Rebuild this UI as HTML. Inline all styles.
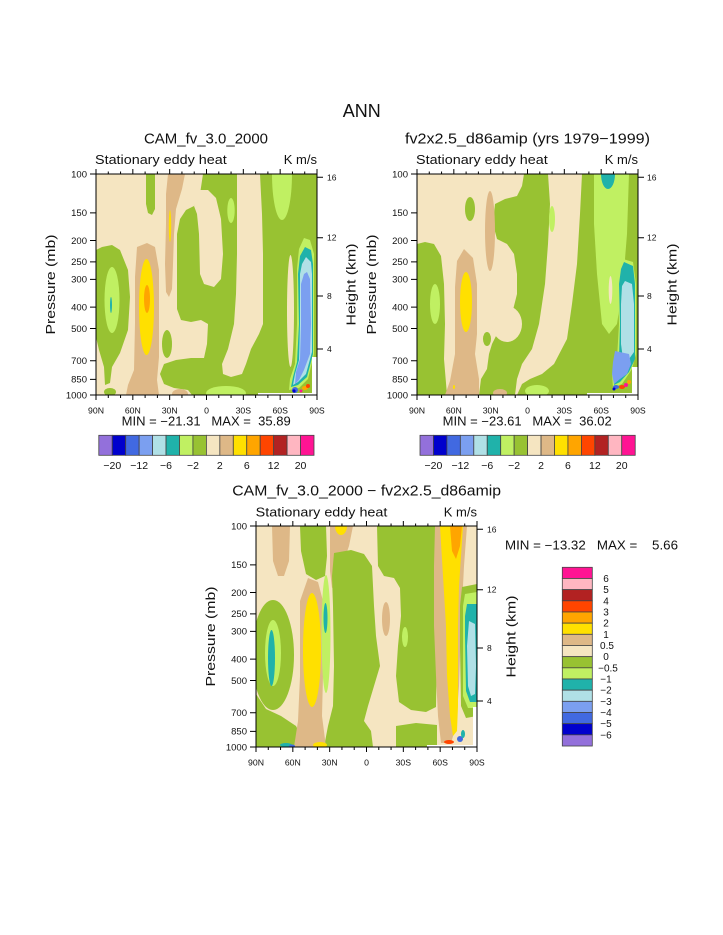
<!DOCTYPE html>
<html><head><meta charset="utf-8">
<style>
html,body{margin:0;padding:0;background:#fff;}
svg{display:block;}
text{font-family:"Liberation Sans",sans-serif;fill:#111;}
.g{fill:#98C232}.lg{fill:#C0F062}.b{fill:#F5E5C1}.t{fill:#DEB887}.y{fill:#FFE000}.o{fill:#FFA500}
.te{fill:#20B2AA}.pb{fill:#B0E0E6}.cf{fill:#7B9FF0}.rb{fill:#4169E1}.mb{fill:#0000CD}.pu{fill:#9370DB}
.or{fill:#FF4500}.fb{fill:#B22222}.lp{fill:#FFB6C1}.dp{fill:#FF1493}.w{fill:#fff}
.tk{stroke:#000;stroke-width:1;fill:none}
.cb rect{stroke:#444;stroke-width:0.8}
</style></head>
<body>
<svg width="723" height="935" viewBox="0 0 723 935" xmlns="http://www.w3.org/2000/svg">
<defs>
<clipPath id="pc"><rect width="221" height="221"/></clipPath>
<g id="ticks">
<path class="tk" d="M0 221V226M36.83 221V226M73.67 221V226M110.5 221V226M147.33 221V226M184.17 221V226M221 221V226"/>
<path class="tk" d="M12.28 221V224M24.56 221V224M49.11 221V224M61.39 221V224M85.94 221V224M98.22 221V224M122.78 221V224M135.06 221V224M159.61 221V224M171.89 221V224M196.44 221V224M208.72 221V224"/>
<path class="tk" d="M0 0V-5M36.83 0V-5M73.67 0V-5M110.5 0V-5M147.33 0V-5M184.17 0V-5M221 0V-5"/>
<path class="tk" d="M12.28 0V-2.5M24.56 0V-2.5M49.11 0V-2.5M61.39 0V-2.5M85.94 0V-2.5M98.22 0V-2.5M122.78 0V-2.5M135.06 0V-2.5M159.61 0V-2.5M171.89 0V-2.5M196.44 0V-2.5M208.72 0V-2.5"/>
<path class="tk" d="M0 0H-6M0 38.9H-6M0 66.5H-6M0 87.9H-6M0 105.4H-6M0 133.1H-6M0 154.5H-6M0 186.8H-6M0 205.4H-6M0 221H-6"/>
<path class="tk" d="M221 3.3H227M221 63.7H227M221 122H227M221 175H227"/>
<rect x="0" y="0" width="221" height="221" fill="none" stroke="#000" stroke-width="1"/>
</g>
</defs>

<text x="361.7" y="117" font-size="18.5" text-anchor="middle" textLength="38" lengthAdjust="spacingAndGlyphs">ANN</text>

<!-- ================= PLOT 1 ================= -->
<g transform="translate(96,174)">
<g clip-path="url(#pc)">
<rect width="221" height="221" class="b"/>
<path class="g" d="M107,0 L221,0 L221,221 L96,221 L92,216 L78,214 L68,210 L64,200 L68,190 L80,186 L95,184 L108,184 L111,170 L112,150 L105,146 L95,148 L85,146 L81,135 L81,60 L84,45 L90,36 L98,32 L104,20Z"/>
<path class="b" d="M98,32 L104,16 L112,16 L120,24 L125,45 L127,80 L125,105 L118,113 L108,110 L104,100 L103,60 L101,40Z"/>
<path class="b" d="M141,0 L164,0 L166,40 L167,80 L167,150 L163,160 L155,175 L150,190 L146,200 L135,203 L127,200 L126,190 L132,175 L138,150 L140,120 L141,80 L141,40Z"/>
<ellipse class="b" cx="194.5" cy="137" rx="3.5" ry="56"/>
<ellipse class="lg" cx="135" cy="36.5" rx="3.7" ry="12.5"/>
<ellipse class="lg" cx="186" cy="0" rx="10" ry="46"/>
<ellipse class="lg" cx="130" cy="219" rx="20" ry="7"/>
<path class="lg" d="M208,64 L214,66 L218,80 L218,180 L212,205 L203,214 L193,216 L194,205 L199,190 L201,150 L201,95 L203,75Z"/>
<path class="te" d="M209,73 L215,76 L217,90 L217,180 L211,203 L202,211 L195,213 L197,203 L201,188 L203,150 L202,100 L204,82Z"/>
<path class="pb" d="M210,83 L215,88 L216,100 L216,178 L210,200 L202,208 L197,211 L199,200 L203,186 L204,150 L204,100 L206,90Z"/>
<path class="cf" d="M211,98 L214,105 L215,150 L214,180 L208,196 L203,206 L199,210 L200,198 L204,185 L205,150 L205,110 L208,100Z"/>
<ellipse class="rb" cx="199" cy="216" rx="3" ry="3"/>
<ellipse class="mb" cx="198" cy="217" rx="1.6" ry="1.6"/>
<ellipse class="o" cx="209" cy="214" rx="3" ry="2"/>
<ellipse class="or" cx="212" cy="212" rx="2" ry="2"/>
<ellipse class="dp" cx="205" cy="217" rx="1.5" ry="1.5"/>
<rect class="w" x="216" y="183" width="5" height="38"/>
<rect class="w" x="162" y="219" width="59" height="2"/>
<path class="g" d="M0,76 L6,73 L16,71 L24,76 L32,96 L34,123 L32,156 L24,179 L16,193 L14,209 L9,211 L8,193 L3,176 L0,163Z"/>
<ellipse class="lg" cx="16" cy="126" rx="7.5" ry="33"/>
<ellipse class="te" cx="15" cy="131" rx="1" ry="8"/>
<ellipse class="g" cx="14" cy="218" rx="6" ry="4"/>
<path class="t" d="M41,73 L51,69 L59,73 L63,96 L63,183 L61,206 L63,221 L30,221 L32,211 L38,196 L39,149 L39,103Z"/>
<ellipse class="y" cx="50.5" cy="133" rx="7.5" ry="48"/>
<ellipse class="o" cx="51" cy="125" rx="3" ry="14"/>
<path class="t" d="M72,0 L89,0 L86,15 L80,35 L78,60 L77,90 L76,115 L73,123 L70,118 L69,90 L70,50 L70,20Z"/>
<ellipse class="y" cx="74" cy="52" rx="1.2" ry="16"/>
<path class="g" d="M50,0 L59,0 L59,35 L56,41 L52,39 L50,30Z"/>
<ellipse class="t" cx="84" cy="220" rx="8" ry="5"/>
<ellipse class="g" cx="71" cy="170" rx="5" ry="14"/>
</g>
<use href="#ticks"/>
</g>
<text x="144" y="143.5" font-size="14.5" textLength="124" lengthAdjust="spacingAndGlyphs">CAM_fv_3.0_2000</text>
<text x="95" y="164" font-size="13" textLength="131.7" lengthAdjust="spacingAndGlyphs">Stationary eddy heat</text>
<text x="317" y="164" font-size="13" text-anchor="end">K m/s</text>
<g font-size="9.5" text-anchor="end">
<text x="87" y="177.3">100</text><text x="87" y="216.2">150</text><text x="87" y="243.8">200</text><text x="87" y="265.2">250</text><text x="87" y="282.7">300</text><text x="87" y="310.4">400</text><text x="87" y="331.8">500</text><text x="87" y="364.1">700</text><text x="87" y="382.7">850</text><text x="87" y="398.3">1000</text>
</g>
<g font-size="8.5">
<text x="327" y="180.3">16</text><text x="327" y="240.7">12</text><text x="327" y="299">8</text><text x="327" y="352">4</text>
</g>
<g font-size="8.7" text-anchor="middle">
<text x="96" y="413.5">90N</text><text x="132.8" y="413.5">60N</text><text x="169.7" y="413.5">30N</text><text x="206.5" y="413.5">0</text><text x="243.3" y="413.5">30S</text><text x="280.2" y="413.5">60S</text><text x="317" y="413.5">90S</text>
</g>
<text transform="translate(55,284.5) rotate(-90)" font-size="13" text-anchor="middle" textLength="100" lengthAdjust="spacingAndGlyphs">Pressure (mb)</text>
<text transform="translate(355.5,284.5) rotate(-90)" font-size="13" text-anchor="middle" textLength="82" lengthAdjust="spacingAndGlyphs">Height (km)</text>
<text x="121.7" y="425.7" font-size="12.5" textLength="169" lengthAdjust="spacingAndGlyphs" style="white-space:pre">MIN = −21.31   MAX =  35.89</text>
<g class="cb" transform="translate(98.8,435.3)">
<rect x="0" width="13.45" height="20" class="pu"/><rect x="13.45" width="13.45" height="20" class="mb"/><rect x="26.9" width="13.45" height="20" class="rb"/><rect x="40.35" width="13.45" height="20" class="cf"/><rect x="53.8" width="13.45" height="20" class="pb"/><rect x="67.25" width="13.45" height="20" class="te"/><rect x="80.7" width="13.45" height="20" class="lg"/><rect x="94.15" width="13.45" height="20" class="g"/><rect x="107.6" width="13.45" height="20" class="b"/><rect x="121.05" width="13.45" height="20" class="t"/><rect x="134.5" width="13.45" height="20" class="y"/><rect x="147.95" width="13.45" height="20" class="o"/><rect x="161.4" width="13.45" height="20" class="or"/><rect x="174.85" width="13.45" height="20" class="fb"/><rect x="188.3" width="13.45" height="20" class="lp"/><rect x="201.75" width="13.45" height="20" class="dp"/>
</g>
<g font-size="10.5" text-anchor="middle">
<text x="112.25" y="469">−20</text><text x="139.15" y="469">−12</text><text x="166.05" y="469">−6</text><text x="192.95" y="469">−2</text><text x="219.85" y="469">2</text><text x="246.75" y="469">6</text><text x="273.65" y="469">12</text><text x="300.55" y="469">20</text>
</g>

<!-- ================= PLOT 2 ================= -->
<g transform="translate(417,174)">
<g clip-path="url(#pc)">
<rect width="221" height="221" class="b"/>
<path class="g" d="M107,0 L131,0 L133,30 L131,70 L128,110 L122,150 L115,175 L105,190 L100,205 L98,221 L62,221 L64,205 L70,195 L72,180 L75,170 L80,160 L85,150 L95,140 L100,120 L100,100 L97,80 L90,70 L80,65 L76,50 L78,30 L88,25 L100,22 L105,12Z"/>
<ellipse class="b" cx="90" cy="150" rx="15" ry="18"/>
<ellipse class="g" cx="70" cy="165" rx="4" ry="7"/>
<path class="g" d="M165,0 L221,0 L221,221 L100,221 L105,210 L113,205 L125,200 L137,190 L150,165 L155,130 L160,90 L163,40Z"/>
<path class="lg" d="M177,0 L212,0 L210,60 L206,110 L200,150 L192,160 L185,150 L180,100 L177,50Z"/>
<ellipse class="te" cx="191" cy="0" rx="7" ry="15"/>
<ellipse class="lg" cx="135" cy="45" rx="3" ry="13"/>
<ellipse class="b" cx="193.5" cy="116" rx="1.8" ry="14"/>
<path class="lg" d="M206,85 L216,88 L219,110 L219,180 L215,195 L205,210 L196,214 L195,200 L200,185 L202,150 L201,110 L203,92Z"/>
<path class="te" d="M207,88 L216,92 L218,110 L218,185 L212,198 L203,208 L197,211 L199,198 L202,185 L203,150 L202,110 L204,95Z"/>
<path class="pb" d="M208,107 L215,110 L217,130 L217,178 L212,185 L206,185 L204,170 L204,130 L205,112Z"/>
<path class="cf" d="M198,177 L212,180 L214,190 L210,200 L203,205 L197,210 L195,200 L196,188Z"/>
<ellipse class="rb" cx="199" cy="213" rx="3" ry="2"/>
<ellipse class="mb" cx="197" cy="215" rx="1.5" ry="1.5"/>
<ellipse class="or" cx="205" cy="213" rx="3" ry="2"/>
<ellipse class="dp" cx="209" cy="211" rx="2" ry="2"/>
<ellipse class="o" cx="212" cy="208" rx="2" ry="2"/>
<rect class="w" x="215" y="193" width="6" height="28"/>
<rect class="w" x="170" y="219" width="51" height="2"/>
<path class="g" d="M0,70 L8,68 L17,70 L24,82 L27,110 L28,150 L27,185 L30,221 L0,221Z"/>
<ellipse class="lg" cx="18" cy="130" rx="5" ry="20"/>
<path class="t" d="M47,75 L56,84 L60,110 L60,160 L58,180 L62,205 L62,221 L28,221 L33,207 L38,180 L38,113 L40,87Z"/>
<ellipse class="y" cx="49" cy="128" rx="6" ry="30"/>
<ellipse class="t" cx="73" cy="57" rx="5" ry="40"/>
<ellipse class="g" cx="53" cy="35" rx="5" ry="12"/>
<ellipse class="t" cx="83" cy="219" rx="7" ry="4"/>
<ellipse class="y" cx="37" cy="213" rx="1" ry="2"/>
<ellipse class="lg" cx="120" cy="217" rx="12" ry="6"/>
</g>
<use href="#ticks"/>
</g>
<text x="405" y="143.5" font-size="14.5" textLength="245" lengthAdjust="spacingAndGlyphs">fv2x2.5_d86amip (yrs 1979−1999)</text>
<text x="416" y="164" font-size="13" textLength="131.7" lengthAdjust="spacingAndGlyphs">Stationary eddy heat</text>
<text x="638" y="164" font-size="13" text-anchor="end">K m/s</text>
<g font-size="9.5" text-anchor="end">
<text x="408" y="177.3">100</text><text x="408" y="216.2">150</text><text x="408" y="243.8">200</text><text x="408" y="265.2">250</text><text x="408" y="282.7">300</text><text x="408" y="310.4">400</text><text x="408" y="331.8">500</text><text x="408" y="364.1">700</text><text x="408" y="382.7">850</text><text x="408" y="398.3">1000</text>
</g>
<g font-size="8.5">
<text x="647" y="180.3">16</text><text x="647" y="240.7">12</text><text x="647" y="299">8</text><text x="647" y="352">4</text>
</g>
<g font-size="8.7" text-anchor="middle">
<text x="417" y="413.5">90N</text><text x="453.8" y="413.5">60N</text><text x="490.7" y="413.5">30N</text><text x="527.5" y="413.5">0</text><text x="564.3" y="413.5">30S</text><text x="601.2" y="413.5">60S</text><text x="638" y="413.5">90S</text>
</g>
<text transform="translate(376,284.5) rotate(-90)" font-size="13" text-anchor="middle" textLength="100" lengthAdjust="spacingAndGlyphs">Pressure (mb)</text>
<text transform="translate(676.5,284.5) rotate(-90)" font-size="13" text-anchor="middle" textLength="82" lengthAdjust="spacingAndGlyphs">Height (km)</text>
<text x="442.7" y="425.7" font-size="12.5" textLength="169" lengthAdjust="spacingAndGlyphs" style="white-space:pre">MIN = −23.61   MAX =  36.02</text>
<g class="cb" transform="translate(420,435.3)">
<rect x="0" width="13.45" height="20" class="pu"/><rect x="13.45" width="13.45" height="20" class="mb"/><rect x="26.9" width="13.45" height="20" class="rb"/><rect x="40.35" width="13.45" height="20" class="cf"/><rect x="53.8" width="13.45" height="20" class="pb"/><rect x="67.25" width="13.45" height="20" class="te"/><rect x="80.7" width="13.45" height="20" class="lg"/><rect x="94.15" width="13.45" height="20" class="g"/><rect x="107.6" width="13.45" height="20" class="b"/><rect x="121.05" width="13.45" height="20" class="t"/><rect x="134.5" width="13.45" height="20" class="y"/><rect x="147.95" width="13.45" height="20" class="o"/><rect x="161.4" width="13.45" height="20" class="or"/><rect x="174.85" width="13.45" height="20" class="fb"/><rect x="188.3" width="13.45" height="20" class="lp"/><rect x="201.75" width="13.45" height="20" class="dp"/>
</g>
<g font-size="10.5" text-anchor="middle">
<text x="433.45" y="469">−20</text><text x="460.35" y="469">−12</text><text x="487.25" y="469">−6</text><text x="514.15" y="469">−2</text><text x="541.05" y="469">2</text><text x="567.95" y="469">6</text><text x="594.85" y="469">12</text><text x="621.75" y="469">20</text>
</g>

<!-- ================= PLOT 3 ================= -->
<g transform="translate(256,526)">
<g clip-path="url(#pc)">
<rect width="221" height="221" class="b"/>
<path class="t" d="M16,0 L34,0 L33,35 L28,50 L22,50 L17,35Z"/>
<path class="g" d="M44,0 L70,0 L71,30 L69,50 L60,54 L50,48 L45,25Z"/>
<path class="t" d="M74,0 L97,0 L93,20 L86,40 L80,58 L76,62 L74,45 L74,20Z"/>
<ellipse class="y" cx="85" cy="0" rx="6" ry="9"/>
<path class="g" d="M78,27 L95,24 L108,28 L116,40 L118,80 L120,110 L124,140 L118,160 L112,180 L108,195 L115,205 L117,221 L68,221 L72,200 L77,180 L78,140 L77,80 L76,50Z"/>
<path class="g" d="M121,0 L182,0 L182,60 L181,120 L180,181 L170,186 L155,184 L143,176 L140,150 L142,120 L145,90 L144,62 L138,52 L128,50 L122,40Z"/>
<path class="g" d="M140,200 L160,197 L181,199 L181,221 L140,221Z"/>
<ellipse class="t" cx="130" cy="93" rx="4" ry="17"/>
<ellipse class="lg" cx="149" cy="111" rx="3" ry="10"/>
<ellipse class="g" cx="17" cy="129" rx="21" ry="55"/>
<ellipse class="lg" cx="17" cy="127" rx="8" ry="33"/>
<ellipse class="te" cx="15.5" cy="132" rx="3.5" ry="28"/>
<path class="g" d="M0,168 L10,183 L25,190 L40,200 L46,212 L46,221 L0,221Z"/>
<path class="t" d="M52,52 L62,56 L67,75 L67,150 L66,190 L70,221 L38,221 L42,195 L44,150 L44,75Z"/>
<ellipse class="y" cx="56" cy="124" rx="9" ry="57"/>
<ellipse class="lg" cx="70" cy="108" rx="4.5" ry="59"/>
<ellipse class="te" cx="69.5" cy="92" rx="2" ry="15"/>
<path class="t" d="M179,0 L211,0 L208,40 L205,100 L203,160 L200,200 L195,217 L185,217 L182,190 L180,150 L178,100 L178,40Z"/>
<path class="y" d="M184,0 L207,0 L205,30 L203,60 L202,100 L202,180 L201,205 L197,210 L194,190 L191,150 L190,100 L187,50Z"/>
<path class="o" d="M194,0 L206,0 L204,20 L200,33 L196,25Z"/>
<path class="g" d="M206,61 L221,58 L221,190 L210,192 L205,180 L204,120 L204,80Z"/>
<path class="lg" d="M209,68 L221,66 L221,182 L212,182 L207,170 L207,110 L207,80Z"/>
<path class="te" d="M211,78 L221,78 L221,176 L214,176 L210,165 L209,110 L209,90Z"/>
<path class="pb" d="M213,95 L219,98 L220,140 L219,168 L215,170 L212,160 L211,120Z"/>
<rect class="w" x="217" y="181" width="4" height="40"/>
<rect class="w" x="171" y="219" width="50" height="2"/>
<ellipse class="y" cx="64" cy="219" rx="7" ry="3"/>
<ellipse class="te" cx="30" cy="219" rx="6" ry="2"/>
<ellipse class="rb" cx="36" cy="220" rx="3" ry="1.5"/>
<ellipse class="or" cx="193" cy="216" rx="5" ry="2"/>
<ellipse class="rb" cx="204" cy="213" rx="3" ry="3"/>
<ellipse class="te" cx="207" cy="208" rx="2" ry="4"/>
</g>
<use href="#ticks"/>
</g>
<text x="232.3" y="495.5" font-size="14.5" textLength="268.7" lengthAdjust="spacingAndGlyphs">CAM_fv_3.0_2000 − fv2x2.5_d86amip</text>
<text x="255.7" y="516.5" font-size="13" textLength="131.7" lengthAdjust="spacingAndGlyphs">Stationary eddy heat</text>
<text x="477" y="516.5" font-size="13" text-anchor="end">K m/s</text>
<g font-size="9.5" text-anchor="end">
<text x="247" y="529.3">100</text><text x="247" y="568.2">150</text><text x="247" y="595.8">200</text><text x="247" y="617.2">250</text><text x="247" y="634.7">300</text><text x="247" y="662.4">400</text><text x="247" y="683.8">500</text><text x="247" y="716.1">700</text><text x="247" y="734.7">850</text><text x="247" y="750.3">1000</text>
</g>
<g font-size="8.5">
<text x="487" y="532.3">16</text><text x="487" y="592.7">12</text><text x="487" y="651">8</text><text x="487" y="704">4</text>
</g>
<g font-size="8.7" text-anchor="middle">
<text x="256" y="765.5">90N</text><text x="292.8" y="765.5">60N</text><text x="329.7" y="765.5">30N</text><text x="366.5" y="765.5">0</text><text x="403.3" y="765.5">30S</text><text x="440.2" y="765.5">60S</text><text x="477" y="765.5">90S</text>
</g>
<text transform="translate(215,636.5) rotate(-90)" font-size="13" text-anchor="middle" textLength="100" lengthAdjust="spacingAndGlyphs">Pressure (mb)</text>
<text transform="translate(515.5,636.5) rotate(-90)" font-size="13" text-anchor="middle" textLength="82" lengthAdjust="spacingAndGlyphs">Height (km)</text>
<text x="505" y="549.5" font-size="12.5" textLength="173" lengthAdjust="spacingAndGlyphs" style="white-space:pre">MIN = −13.32   MAX =    5.66</text>
<g class="cb" transform="translate(562.3,567.3)">
<rect y="0" width="30" height="11.17" class="dp"/><rect y="11.17" width="30" height="11.17" class="lp"/><rect y="22.34" width="30" height="11.17" class="fb"/><rect y="33.51" width="30" height="11.17" class="or"/><rect y="44.68" width="30" height="11.17" class="o"/><rect y="55.85" width="30" height="11.17" class="y"/><rect y="67.02" width="30" height="11.17" class="t"/><rect y="78.19" width="30" height="11.17" class="b"/><rect y="89.36" width="30" height="11.17" class="g"/><rect y="100.53" width="30" height="11.17" class="lg"/><rect y="111.7" width="30" height="11.17" class="te"/><rect y="122.87" width="30" height="11.17" class="pb"/><rect y="134.04" width="30" height="11.17" class="cf"/><rect y="145.21" width="30" height="11.17" class="rb"/><rect y="156.38" width="30" height="11.17" class="mb"/><rect y="167.55" width="30" height="11.17" class="pu"/>
</g>
<g font-size="10" text-anchor="middle">
<text x="606" y="582">6</text><text x="606" y="593.2">5</text><text x="606" y="604.3">4</text><text x="606" y="615.5">3</text><text x="606" y="626.7">2</text><text x="606" y="637.8">1</text><text x="607" y="649">0.5</text><text x="606" y="660.2">0</text><text x="608" y="671.4">−0.5</text><text x="606" y="682.5">−1</text><text x="606" y="693.7">−2</text><text x="606" y="704.9">−3</text><text x="606" y="716">−4</text><text x="606" y="727.2">−5</text><text x="606" y="738.4">−6</text>
</g>
</svg>
</body></html>
